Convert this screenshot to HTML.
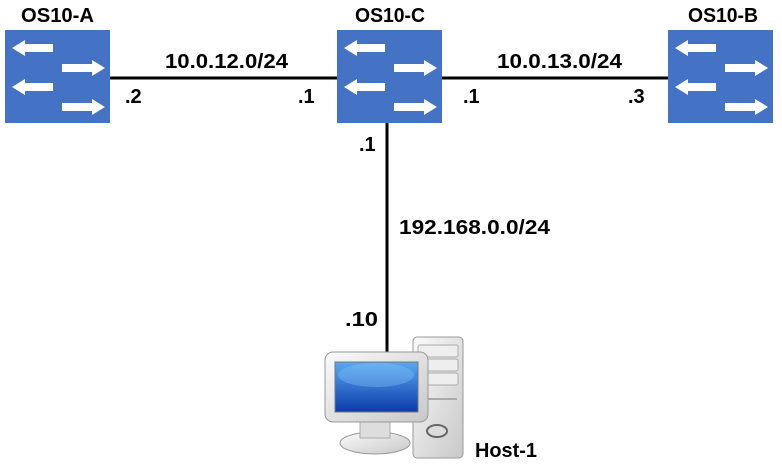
<!DOCTYPE html>
<html><head><style>
html,body{margin:0;padding:0;background:#fff;}
text{font-family:"Liberation Sans",Arial,sans-serif;font-weight:bold;font-size:20px;fill:#000;}
</style></head><body>
<svg width="782" height="466" viewBox="0 0 782 466" xmlns="http://www.w3.org/2000/svg">
<defs>
<g id="sw">
<rect x="0" y="0" width="105" height="93" fill="#4472c4"/>
<path d="M7 18 L20 10 L20 14 L48 14 L48 22 L20 22 L20 26 Z" fill="#fff"/>
<path d="M7 57 L20 49 L20 53 L48 53 L48 61 L20 61 L20 65 Z" fill="#fff"/>
<path d="M100 38 L87 30 L87 34 L57 34 L57 42 L87 42 L87 46 Z" fill="#fff"/>
<path d="M100 77 L87 69 L87 73 L57 73 L57 81 L87 81 L87 85 Z" fill="#fff"/>
</g>
<linearGradient id="scr" x1="0" y1="0" x2="0" y2="1"><stop offset="0" stop-color="#5aa8f0"/><stop offset="1" stop-color="#0a3aa8"/></linearGradient>
<linearGradient id="gry" x1="0" y1="0" x2="1" y2="1"><stop offset="0" stop-color="#fafafa"/><stop offset="1" stop-color="#c8c8c8"/></linearGradient>
</defs>
<line x1="110" y1="78" x2="337" y2="78" stroke="#000" stroke-width="3"/>
<line x1="441" y1="78" x2="668" y2="78" stroke="#000" stroke-width="3"/>
<line x1="387" y1="123" x2="387" y2="353" stroke="#000" stroke-width="3"/>
<use href="#sw" x="5" y="30"/>
<use href="#sw" x="337" y="30"/>
<use href="#sw" x="668" y="30"/>
<text x="21" y="22" textLength="73" lengthAdjust="spacingAndGlyphs">OS10-A</text>
<text x="355" y="22" textLength="70" lengthAdjust="spacingAndGlyphs">OS10-C</text>
<text x="688" y="22" textLength="70" lengthAdjust="spacingAndGlyphs">OS10-B</text>
<text x="165" y="68" textLength="123" lengthAdjust="spacingAndGlyphs">10.0.12.0/24</text>
<text x="497" y="68" textLength="125" lengthAdjust="spacingAndGlyphs">10.0.13.0/24</text>
<text x="125" y="103">.2</text>
<text x="298" y="103">.1</text>
<text x="463" y="103">.1</text>
<text x="628" y="103">.3</text>
<text x="359" y="151">.1</text>
<text x="399" y="234" textLength="151" lengthAdjust="spacingAndGlyphs">192.168.0.0/24</text>
<text x="345" y="326" textLength="33" lengthAdjust="spacingAndGlyphs">.10</text>
<text x="475" y="457" textLength="62" lengthAdjust="spacingAndGlyphs">Host-1</text>
<!-- tower -->
<rect x="413" y="337" width="50" height="121" rx="4" fill="url(#gry)" stroke="#999"/>
<rect x="418" y="345" width="40" height="12" rx="2" fill="#eee" stroke="#aaa"/>
<rect x="418" y="359" width="40" height="12" rx="2" fill="#eee" stroke="#aaa"/>
<rect x="418" y="373" width="40" height="12" rx="2" fill="#eee" stroke="#aaa"/>
<line x1="418" y1="399" x2="457" y2="399" stroke="#aaa" stroke-width="2"/>
<ellipse cx="437" cy="431" rx="10" ry="6" fill="#ddd" stroke="#666" stroke-width="2"/>
<!-- monitor stand -->
<ellipse cx="375" cy="443" rx="35" ry="11" fill="url(#gry)" stroke="#999"/>
<rect x="360" y="418" width="30" height="20" fill="#ddd" stroke="#aaa"/>
<!-- monitor -->
<rect x="325" y="352" width="103" height="70" rx="8" fill="url(#gry)" stroke="#999"/>
<rect x="335" y="362" width="83" height="50" fill="url(#scr)" stroke="#777"/>
<ellipse cx="376" cy="375" rx="38" ry="12" fill="#8cc8ff" opacity="0.35"/>
</svg>
</body></html>
